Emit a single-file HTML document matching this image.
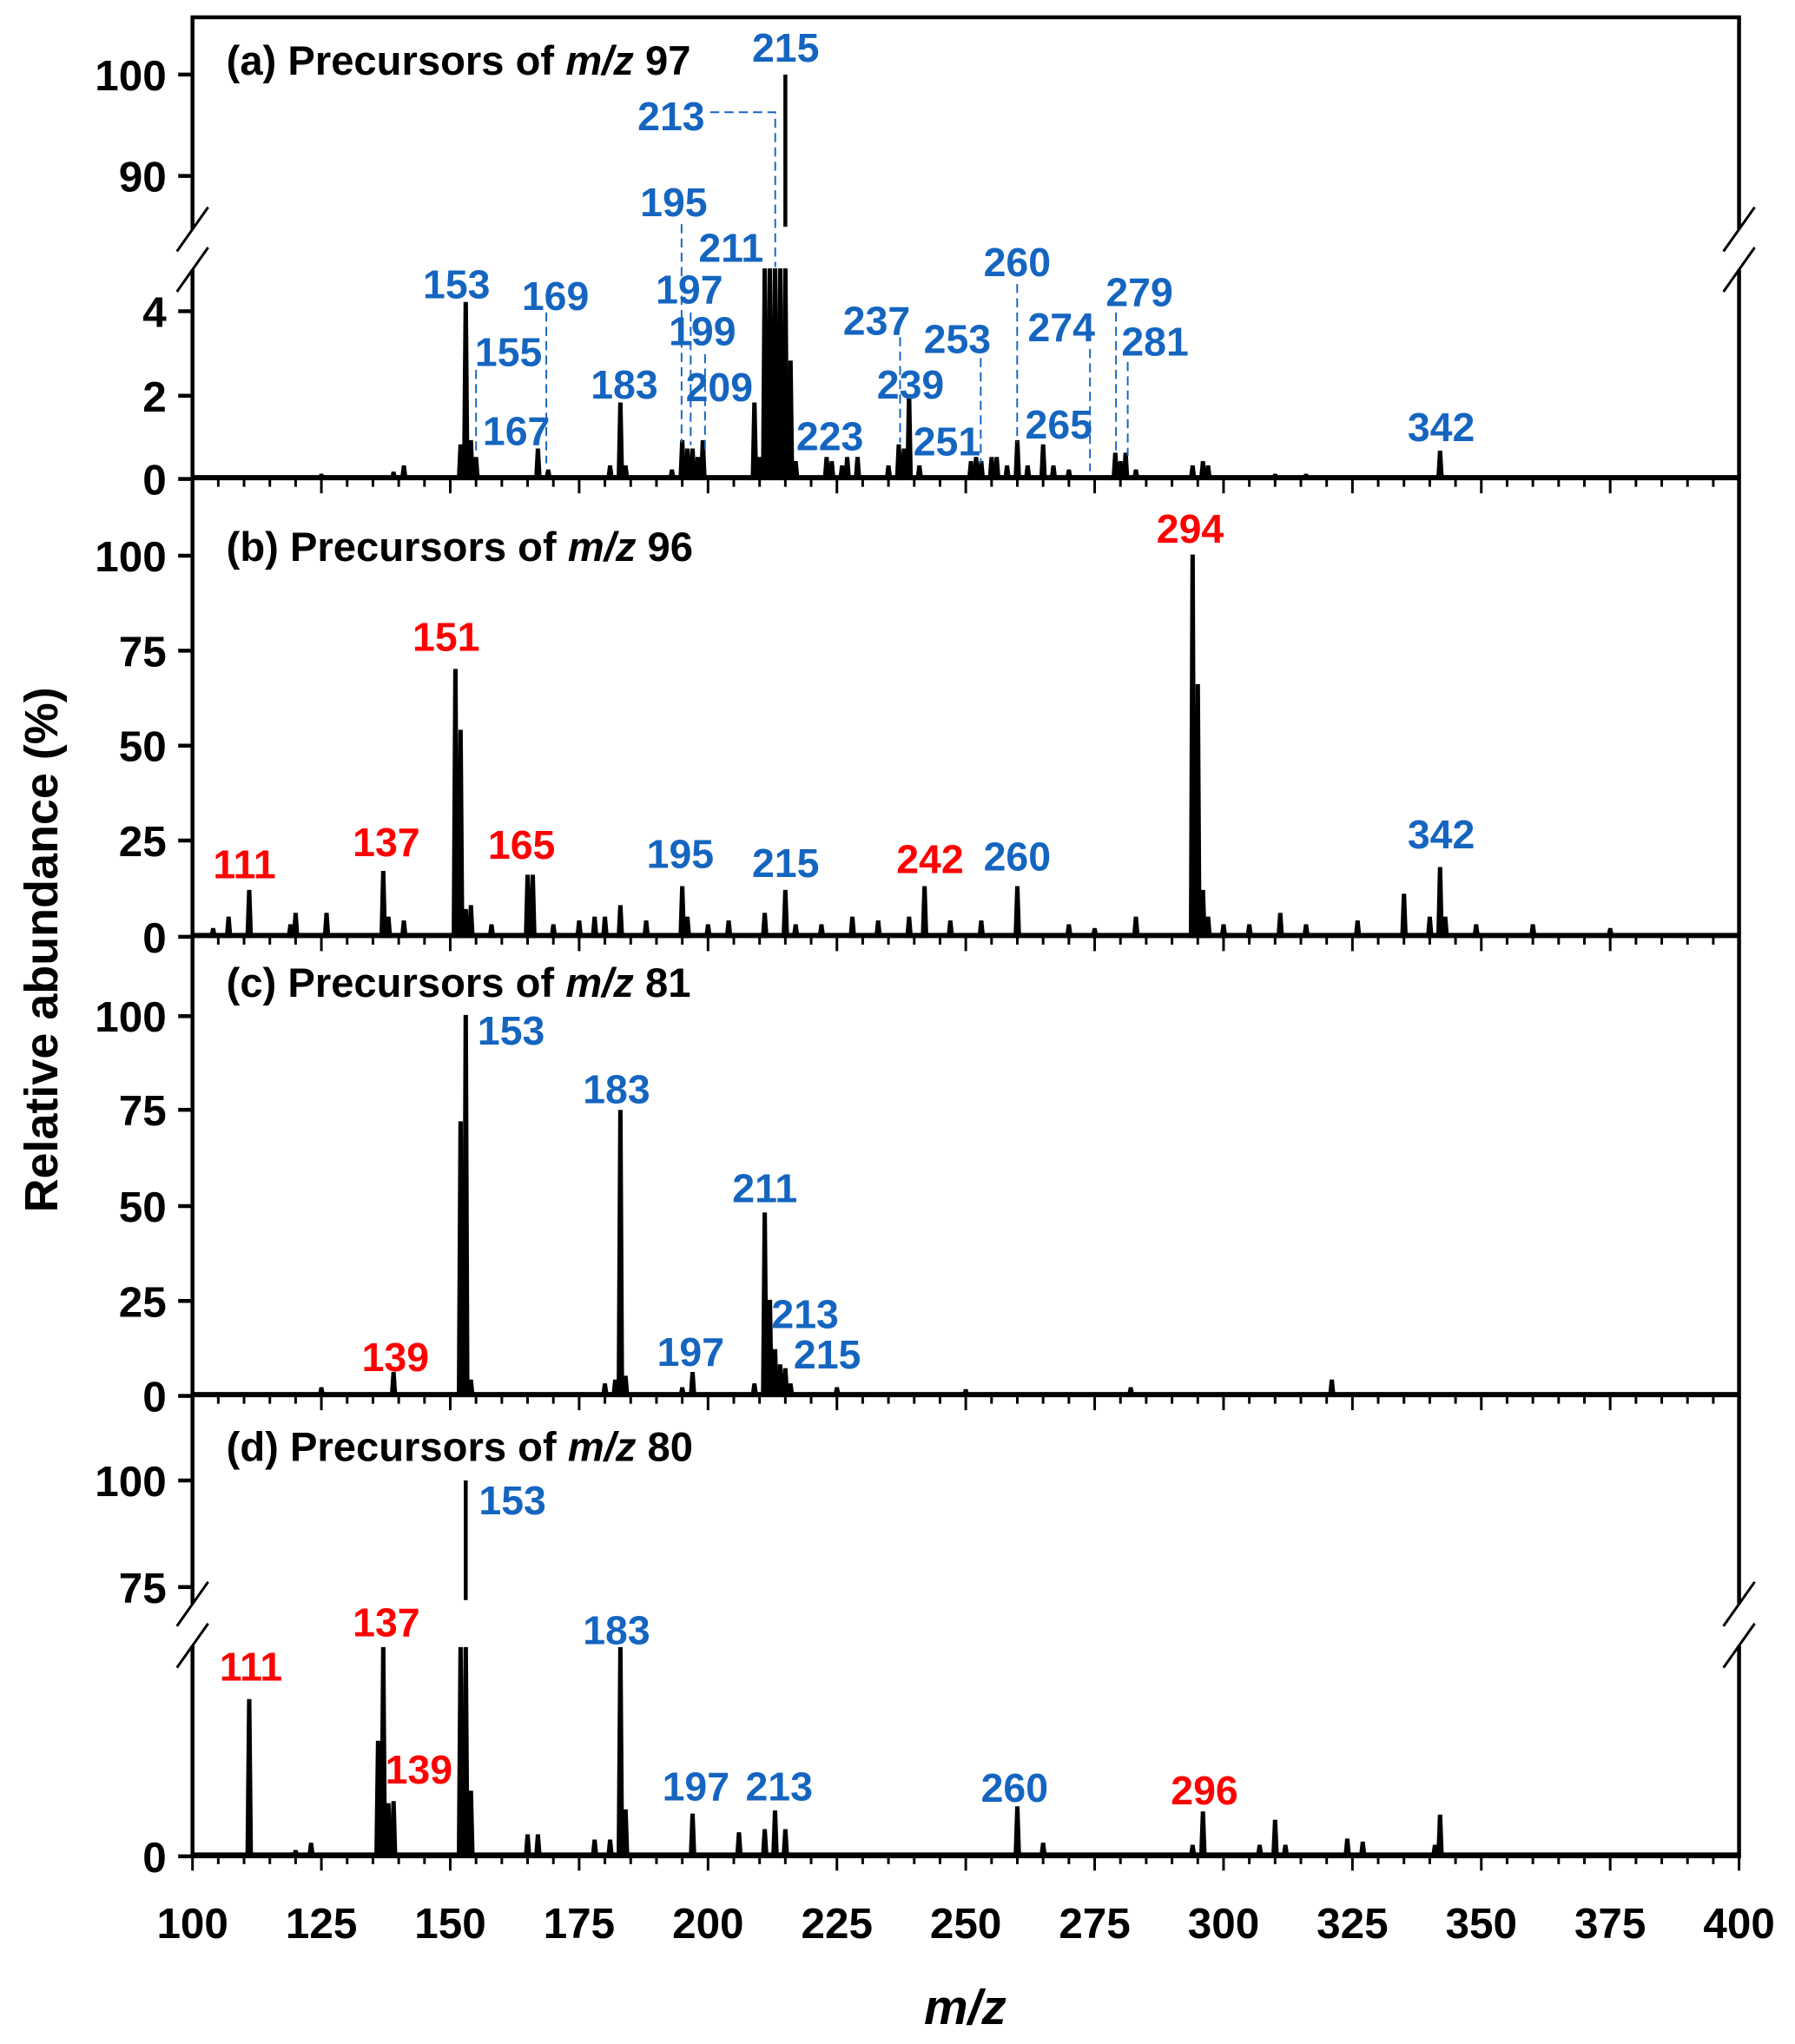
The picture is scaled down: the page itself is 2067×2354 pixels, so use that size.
<!DOCTYPE html>
<html><head><meta charset="utf-8"><style>
html,body{margin:0;padding:0;background:#fff;}
svg{display:block;}
text{font-family:"Liberation Sans Narrow","Liberation Sans",sans-serif;font-weight:bold;}
</style></head><body>
<svg id="chart" width="2067" height="2354" viewBox="0 0 1380 1571" xmlns="http://www.w3.org/2000/svg">
<g id="g"></g>
</svg>
<script>
// ---- data ----
const panelAMz = [125,139,141,152,153,154,155,167,169,181,183,184,193,195,196,197,198,199,209,210,211,212,213,214,215,216,217,223,224,226,227,229,235,237,238,239,241,251,252,253,255,256,258,260,262,265,267,270,279,280,281,283,294,296,297,310,316,342];
const panelAVal = [0.1,0.15,0.3,0.8,4.2,0.9,0.5,0.7,0.2,0.3,1.8,0.3,0.2,0.9,0.7,0.7,0.5,0.9,1.8,0.5,5,5,5,5,100,2.8,0.4,0.5,0.4,0.3,0.5,0.5,0.3,0.8,0.7,2.0,0.3,0.4,0.5,0.4,0.5,0.5,0.3,0.9,0.3,0.8,0.3,0.2,0.6,0.4,0.6,0.2,0.3,0.4,0.3,0.1,0.1,0.65];
const panelBMz = [104,107,111,119,120,126,137,138,141,151,152,153,154,158,165,166,170,175,178,180,183,188,195,196,200,204,211,215,217,222,228,233,239,242,247,253,260,270,275,283,294,295,296,297,300,305,311,316,326,335,340,342,343,349,360,375];
const panelBVal = [2,5,12,3,6,6,17,5,4,70,54,7,8,3,16,16,3,4,5,5,8,4,13,5,3,4,6,12,3,3,5,4,5,13,4,4,13,3,2,5,100,66,12,5,3,3,6,3,4,11,5,18,5,3,3,2];
const panelCMz = [125,139,152,153,154,180,182,183,184,195,197,209,211,212,213,214,215,216,225,250,282,321];
const panelCVal = [2,6,72,100,4,3,4,75,5,2,6,3,48,25,12,8,7,3,2,1.5,2,4];
const panelDMz = [120,123,111,136,137,138,139,152,153,154,165,167,178,181,183,184,197,206,211,213,215,260,265,294,296,307,310,312,324,327,341,342];
const panelDVal = [0.5,1.2,15,11,20,5,5.2,20,100,6.2,2,2,1.5,1.5,20,4.4,4,2.2,2.5,4.3,2.5,4.7,1.2,1,4.2,1,3.4,1,1.6,1.3,1,3.9];
const xTicks = [100,125,150,175,200,225,250,275,300,325,350,375,400];

const NS="http://www.w3.org/2000/svg";
const G=document.getElementById('g');
function mk(tag,attrs,parent){const e=document.createElementNS(NS,tag);for(const k in attrs)e.setAttribute(k,attrs[k]);(parent||G).appendChild(e);return e;}
const X0=148,X1=1337;
function xs(m){return X0+(m-100)*(X1-X0)/300;}

const panels=[
 {id:'a',mz:panelAMz,val:panelAVal,base:368,lo:[0,5],loTop:207,up:{min:85,max:100,y85:174,ymax:57},yt:[[0,368],[2,304],[4,239]],upT:[[90,135],[100,57]]},
 {id:'b',mz:panelBMz,val:panelBVal,base:720,lo:[0,100],loTop:427,yt:[[0,720],[25,646],[50,573],[75,500],[100,427]]},
 {id:'c',mz:panelCMz,val:panelCVal,base:1073,lo:[0,100],loTop:781,yt:[[0,1073],[25,1000],[50,927],[75,853],[100,781]]},
 {id:'d',mz:panelDMz,val:panelDVal,base:1427,lo:[0,20],loTop:1267,up:{min:72,max:100,y85:1230,ymax:1138},yt:[[0,1427]],upT:[[75,1220],[100,1138]]}
];
const frame=mk('rect',{x:X0,y:13,width:X1-X0,height:1427-13,fill:'none',stroke:'#000','stroke-width':3});



panels.forEach(p=>{
  const lo=v=>p.base-(v-p.lo[0])/(p.lo[1]-p.lo[0])*(p.base-p.loTop);
  const up=p.up?(v=>p.up.y85-(v-p.up.min)/(p.up.max-p.up.min)*(p.up.y85-p.up.ymax)):null;
  const grp=mk('g',{});
  
  
  mk('line',{x1:X0,x2:X1,y1:p.base-1,y2:p.base-1,stroke:'#000','stroke-width':4},grp);
  p.mz.forEach((m,i)=>{
    const v=p.val[i];const x=xs(m);
    const vl=Math.min(v,p.lo[1]);
    const pk=mk('path',{d:`M${x-2},${p.base} L${x-0.8},${lo(vl)} L${x+0.8},${lo(vl)} L${x+2},${p.base}Z`,fill:'#000',stroke:'#000','stroke-width':1.8},grp);
    
    
    if(up&&v>p.up.min){
      const s=mk('line',{x1:x,x2:x,y1:up(p.up.min),y2:up(v),stroke:'#000','stroke-width':3},grp);
      
      
    }
  });
  for(let m=100;m<=400;m+=5){
    const major=(m%25===0);
    mk('line',{x1:xs(m),x2:xs(m),y1:p.base,y2:p.base+(major?11:6),stroke:'#000','stroke-width':2},grp);
  }
  const yt=p.yt.map(t=>t).concat(p.upT||[]);
  yt.forEach(t=>{
    mk('line',{x1:X0-11,x2:X0,y1:t[1],y2:t[1],stroke:'#000','stroke-width':3},grp);
    const tx=mk('text',{x:X0-20,y:t[1]+12,'text-anchor':'end','font-size':33},grp);
    tx.textContent=t[0];
    
    
  });
});
function brk(cx,y1,y2,name){
  mk('rect',{x:cx-3,y:y1,width:6,height:y2-y1,fill:'#fff'});
  [y1,y2].forEach(y=>{const l=mk('line',{x1:cx-12,y1:y+17,x2:cx+12,y2:y-17,stroke:'#000','stroke-width':2});
    });
}
brk(X0,176,207,'axis-break-a-left');brk(X1,176,207,'axis-break-a-right');
brk(X0,1233,1265,'axis-break-d-left');brk(X1,1233,1265,'axis-break-d-right');

xTicks.forEach(t=>{const tx=mk('text',{x:xs(t),y:1490,'text-anchor':'middle','font-size':33});tx.textContent=t;
  });

function title(y,letter,num){
  const t=mk('text',{x:174,y:y,'font-size':31.5});
  
  
  t.innerHTML=`(${letter}) Precursors of <tspan font-style="italic">m/z</tspan> ${num}`;
}
title(57,'a',97);title(431,'b',96);title(766,'c',81);title(1123,'d',80);

const BL='#1565c0',RD='#ff0000';
const labels=[
 [604,47,'215',BL],[516,100,'213',BL],[518,166,'195',BL],[562,201,'211',BL],[351,229,'153',BL],[391,281,'155',BL],[427,238,'169',BL],[397,342,'167',BL],[480,306,'183',BL],[530,233,'197',BL],[540,265,'199',BL],[553,308,'209',BL],[638,346,'223',BL],[674,257,'237',BL],[700,306,'239',BL],[736,271,'253',BL],[728,350,'251',BL],[782,212,'260',BL],[816,262,'274',BL],[814,337,'265',BL],[876,235,'279',BL],[888,273,'281',BL],[1108,339,'342',BL],
 [188,675,'111',RD],[297,658,'137',RD],[343,500,'151',RD],[401,660,'165',RD],[523,667,'195',BL],[604,674,'215',BL],[715,671,'242',RD],[782,669,'260',BL],[915,417,'294',RD],[1108,652,'342',BL],
 [393,803,'153',BL],[474,848,'183',BL],[588,924,'211',BL],[619,1021,'213',BL],[636,1052,'215',BL],[531,1050,'197',BL],[304,1054,'139',RD],
 [193,1292,'111',RD],[297,1258,'137',RD],[322,1371,'139',RD],[394,1164,'153',BL],[474,1264,'183',BL],[535,1384,'197',BL],[599,1384,'213',BL],[780,1385,'260',BL],[926,1387,'296',RD]
];
labels.forEach(l=>{const t=mk('text',{x:l[0],y:l[1],'text-anchor':'middle','font-size':31,fill:l[3]});t.textContent=l[2];
  });
const leaders=[
 [[546,86],[596,86],[596,205]],[[524,172],[524,340]],[[366,284],[366,350]],[[420,240],[420,356]],[[531,240],[531,342]],[[542,272],[542,345]],
 [[692,259],[692,340]],[[754,275],[754,356]],[[782,218],[782,340]],[[838,268],[838,362]],[[858,240],[858,350]],[[867,278],[867,350]]
];
leaders.forEach(pts=>{const pl=mk('polyline',{points:pts.map(q=>q.join(',')).join(' '),fill:'none',stroke:BL,'stroke-width':1.3,'stroke-dasharray':'7,4'});
  });

const yt=mk('text',{x:0,y:0,'font-size':36,'text-anchor':'middle',transform:'translate(44,730) rotate(-90)','font-family':'Liberation Sans'});
yt.textContent='Relative abundance (%)';

const xt=mk('text',{x:742,y:1556,'font-size':38,'text-anchor':'middle','font-style':'italic','font-family':'Liberation Sans'});
xt.textContent='m/z';

</script>
</body></html>
